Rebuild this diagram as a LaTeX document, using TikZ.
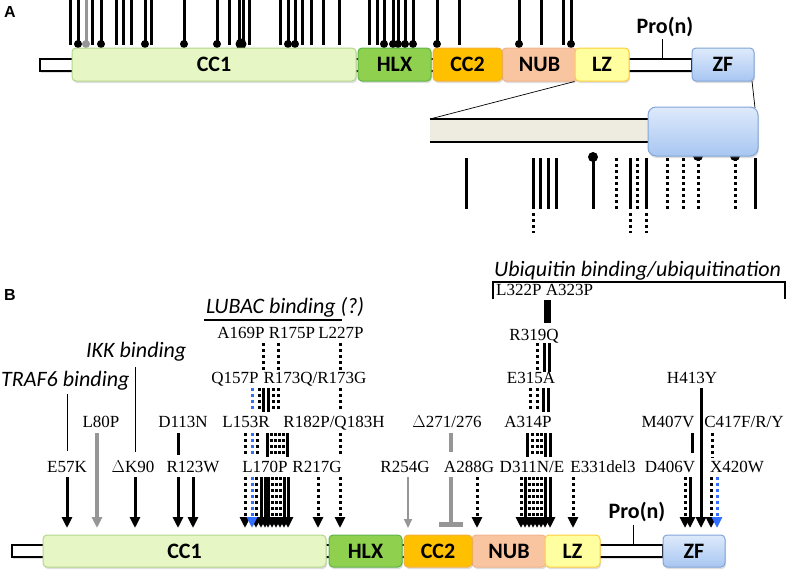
\documentclass[tikz,border=0pt]{standalone}
\usepackage{fontspec}
\setmainfont{Liberation Serif}
\newfontfamily\calib{Carlito}
\newfontfamily\arialf{Liberation Sans}
\usetikzlibrary{arrows.meta,shadows}
\definecolor{cconeF}{RGB}{230,246,196}
\definecolor{cconeD}{RGB}{180,214,140}
\definecolor{hlxF}{RGB}{143,209,79}
\definecolor{hlxD}{RGB}{95,180,70}
\definecolor{cctwoF}{RGB}{255,192,0}
\definecolor{cctwoD}{RGB}{245,175,60}
\definecolor{nubF}{RGB}{249,196,160}
\definecolor{nubD}{RGB}{240,180,140}
\definecolor{lzF}{RGB}{255,255,160}
\definecolor{lzD}{RGB}{255,205,60}
\definecolor{zfT}{RGB}{222,234,251}
\definecolor{zfB}{RGB}{168,198,242}
\definecolor{zfD}{RGB}{130,165,215}
\definecolor{insetF}{RGB}{238,236,225}
\definecolor{mblue}{RGB}{50,110,255}
\definecolor{mgrey}{RGB}{150,150,150}
\tikzset{
  dom/.style={draw, line width=1pt, rounded corners=4pt, inner sep=0pt,
    font=\calib\bfseries\fontsize{22}{22}\selectfont,
    drop shadow={opacity=0.25, shadow xshift=1pt, shadow yshift=-2pt}},
  mut/.style={font=\fontsize{17}{17}\selectfont, anchor=base, inner sep=0pt},
  ital/.style={font=\calib\itshape\fontsize{22}{22}\selectfont, anchor=base west, inner sep=0pt},
  pron/.style={font=\calib\bfseries\fontsize{22}{22}\selectfont, inner sep=0pt},
  sl/.style={line width=3pt},
  dl/.style={line width=3pt, dash pattern=on 3pt off 3pt},
  tip/.style={-{Triangle[width=10pt,length=11pt]}},
}
\begin{document}
\begin{tikzpicture}[x=1pt,y=-1pt]
\useasboundingbox (0,0) rectangle (787,573);
% ================= PANEL A =================
\node[font=\arialf\bfseries\fontsize{16}{16}\selectfont] (labA) at (10,12) {A};
% lines above protein
\foreach \x in {70,92,116,123,131,151,229,239,243,249,280,302,311,323,339,369,377,459,541,563}
  \draw[sl] (\x,0) -- (\x,45);
\foreach \x in {78,101,145,184,217,288,295,384,393,398,405,413,437,519,571}
  {\draw[sl] (\x,0) -- (\x,43); \fill (\x,44) circle (4pt);}
\draw[sl,mgrey] (86,0) -- (86,43); \fill[mgrey] (86,44) circle (4pt);
\fill (241,44) circle (5.5pt);
% backbone
\draw[fill=white, line width=1.5pt, drop shadow={opacity=0.25, shadow xshift=1pt, shadow yshift=-2pt}] (40,59) rectangle (692,71);
\node[dom, fill=cconeF, draw=cconeD, minimum width=284pt, minimum height=33pt] (cc1A) at (214,64.5) {CC1};
\node[dom, fill=hlxF, draw=hlxD, minimum width=73pt, minimum height=33pt] (hlxA) at (394.5,64.5) {HLX};
\node[dom, fill=nubF, draw=nubD, minimum width=75pt, minimum height=33pt] (nubA) at (539.5,64.5) {NUB};
\node[dom, fill=cctwoF, draw=cctwoD, minimum width=69pt, minimum height=33pt] (cc2A) at (467.5,64.5) {CC2};
\node[dom, fill=lzF, draw=lzD, minimum width=54pt, minimum height=33pt] (lzA) at (602,64.5) {LZ};
\node[dom, top color=zfT, bottom color=zfB, draw=zfD, minimum width=62pt, minimum height=33pt] (zfA) at (723,64.5) {ZF};
\node[pron] (proA) at (665,27) {Pro(n)};
\draw[line width=1pt] (662,39) -- (662,59);
% inset
\coordinate (insL) at (430,119);
\coordinate (insR) at (755,108);
\draw[line width=0.7pt] (lzA.south west) -- (insL);
\draw[line width=0.7pt] (752,81) -- (insR);
\fill[insetF] (430,119) rectangle (660,142);
\draw[line width=2.5pt] (430,119) -- (660,119);
\draw[line width=2.5pt] (430,142) -- (660,142);
\fill (698,156) circle (5pt);
\fill (735,156) circle (5pt);
\node[draw=zfD, line width=1pt, top color=zfT, bottom color=zfB, rounded corners=8pt, inner sep=0pt,
  minimum width=110pt, minimum height=49pt,
  drop shadow={opacity=0.25, shadow xshift=1pt, shadow yshift=-2pt}] (zfI) at (703,131.5) {};
\foreach \x in {466,533,540,548,556,630,646,755} \draw[sl] (\x,158) -- (\x,209);
\draw[sl] (593,160) -- (593,209); \fill (593,157) circle (5pt);
\foreach \x in {616,637,667,683,698,735} \draw[dl] (\x,158) -- (\x,209);
\foreach \x in {533,630,646} \draw[dl] (\x,213) -- (\x,233);
% ================= PANEL B =================
\node[font=\arialf\bfseries\fontsize{16}{16}\selectfont] (labB) at (10,295) {B};
% category labels
\node[ital] (traf) at (1,386) {TRAF6 binding};
\node[ital] (ikk) at (86,357) {IKK binding};
\node[ital] (lubac) at (206,313) {LUBAC binding (?)};
\draw[line width=1.5pt] (204,320) -- (342,320);
\node[ital] (ubi) at (494,276) {Ubiquitin binding/ubiquitination};
\draw[line width=1.5pt] (493,299) -- (493,282) -- (785,282) -- (785,299);
% mutation labels
\node[mut, anchor=base west] (m322) at (496,295) {L322P A323P};
\node[mut] (m169) at (241,338) {A169P};
\node[mut] (m175) at (292,338) {R175P};
\node[mut] (m227) at (341,338) {L227P};
\node[mut] (m319) at (534,340) {R319Q};
\node[mut] (m157) at (235,383) {Q157P};
\node[mut] (m173) at (315,383) {R173Q/R173G};
\node[mut] (m315) at (531,383) {E315A};
\node[mut] (m413) at (692,383) {H413Y};
\node[mut] (m80) at (101,427) {L80P};
\node[mut] (m113) at (183,427) {D113N};
\node[mut] (m153) at (246,427) {L153R};
\node[mut] (m182) at (334,427) {R182P/Q183H};
\node[mut] (m271) at (447,427) {$\Delta$271/276};
\node[mut] (m314) at (528,427) {A314P};
\node[mut] (m407) at (668,427) {M407V};
\node[mut] (m417) at (744,427) {C417F/R/Y};
\node[mut] (m57) at (67,472) {E57K};
\node[mut] (m90) at (133,472) {$\Delta$K90};
\node[mut] (m123) at (193,472) {R123W};
\node[mut] (m170) at (265,472) {L170P};
\node[mut] (m217) at (317,472) {R217G};
\node[mut] (m254) at (405,472) {R254G};
\node[mut] (m288) at (469,472) {A288G};
\node[mut] (m311) at (532,472) {D311N/E};
\node[mut] (m331) at (603,472) {E331del3};
\node[mut] (m406) at (670,472) {D406V};
\node[mut] (m420) at (737,472) {X420W};
% segment row5->row4
\draw[line width=7pt] (547,300) -- (547,323);
% segment row4->row3
\foreach \x in {263,278,340,537} \draw[dl] (\x,343) -- (\x,372);
\foreach \x in {544,549} \draw[sl] (\x,343) -- (\x,372);
% segment row3->row2
\draw[dl,mblue] (252,388) -- (252,412);
\foreach \x in {259,273,278,340,530,537} \draw[dl] (\x,388) -- (\x,412);
\foreach \x in {263,268,543,548} \draw[sl] (\x,388) -- (\x,412);
% segment row2->row1
\draw[line width=1pt] (67,394) -- (67,451);
\draw[line width=1pt] (135,367) -- (135,452);
\draw[sl] (178,433) -- (178,455);
\draw[dl,mblue] (252,433) -- (252,457);
\foreach \x in {245,257,271,275,279,283,340,532,537,541} \draw[dl] (\x,433) -- (\x,457);
\foreach \x in {267,287,527,545,550} \draw[sl] (\x,433) -- (\x,457);
\draw[line width=4pt,mgrey] (451,433) -- (451,452);
\draw[sl] (692,433) -- (692,453);
\draw[dl] (712,433) -- (712,458);
% continuous lines
\draw[line width=3.5pt,mgrey,tip] (97,433) -- (97,528);
\draw[sl,tip] (701,388) -- (701,528);
% segment row1->bar (arrows)
\foreach \x in {67,135,178,193,261,265,268,284,288,525,545,550,690}
  \draw[sl,tip] (\x,477) -- (\x,528);
\foreach \x in {245,256,272,276,280,318,340,477,521,529,533,537,541,573,685,711}
  \draw[dl,tip] (\x,477) -- (\x,528);
\foreach \x in {252,717}
  \draw[dl,mblue,tip] (\x,477) -- (\x,528);
\draw[line width=2pt,mgrey,-{Triangle[width=8pt,length=9pt]}] (408,477) -- (408,528);
\draw[line width=4pt,mgrey] (451,477) -- (451,522);
\draw[line width=5pt,mgrey] (439,524.5) -- (463,524.5);
% protein B
\draw[fill=white, line width=1.5pt, drop shadow={opacity=0.25, shadow xshift=1pt, shadow yshift=-2pt}] (12,545) rectangle (663,557);
\node[dom, fill=cconeF, draw=cconeD, minimum width=283pt, minimum height=32pt] (cc1B) at (184.5,551) {CC1};
\node[dom, fill=hlxF, draw=hlxD, minimum width=73pt, minimum height=32pt] (hlxB) at (365.5,551) {HLX};
\node[dom, fill=nubF, draw=nubD, minimum width=74pt, minimum height=32pt] (nubB) at (509,551) {NUB};
\node[dom, fill=cctwoF, draw=cctwoD, minimum width=68pt, minimum height=32pt] (cc2B) at (438,551) {CC2};
\node[dom, fill=lzF, draw=lzD, minimum width=55pt, minimum height=32pt] (lzB) at (572.5,551) {LZ};
\node[dom, top color=zfT, bottom color=zfB, draw=zfD, minimum width=62pt, minimum height=32pt] (zfB) at (694,551) {ZF};
\node[pron] (proB) at (637,512) {Pro(n)};
\draw[line width=1pt] (633,525) -- (633,545);
\end{tikzpicture}
\end{document}
